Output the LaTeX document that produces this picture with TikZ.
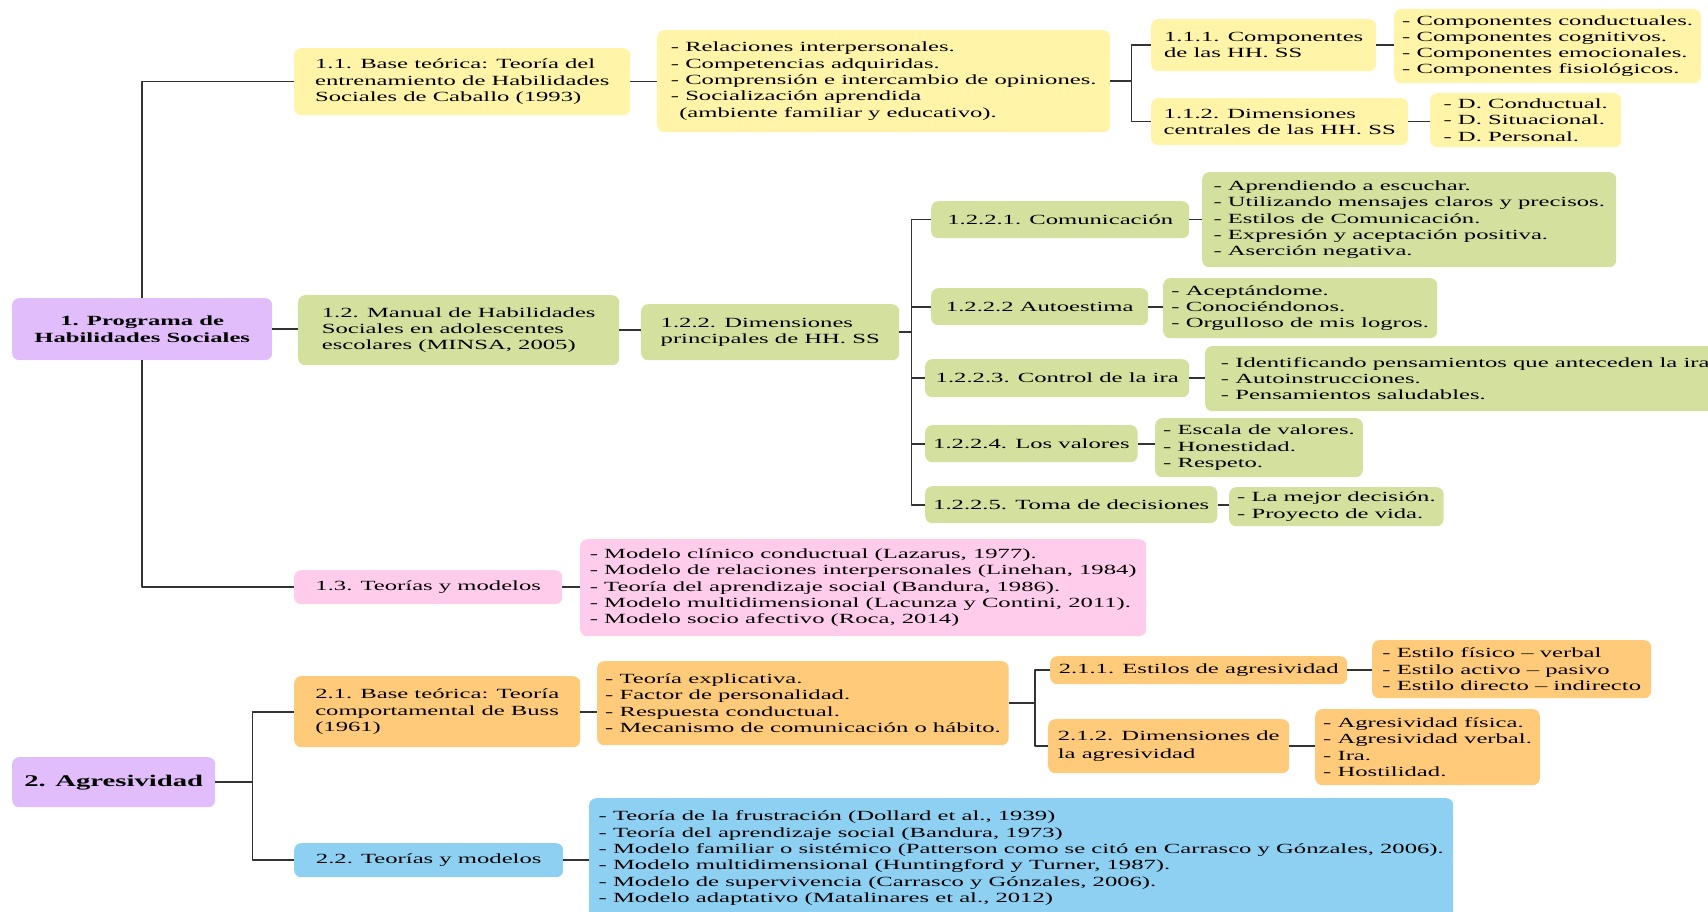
\documentclass[tikz,border=0pt]{standalone}
\usepackage{fontspec}
\setmainfont{Liberation Serif}[FakeStretch=1.76]
\definecolor{hpurple}{RGB}{225,190,251}
\definecolor{hyellow}{RGB}{255,244,168}
\definecolor{hgreen}{RGB}{211,224,158}
\definecolor{hpink}{RGB}{255,204,236}
\definecolor{horange}{RGB}{255,203,122}
\definecolor{hblue}{RGB}{142,208,242}
\begin{document}
\begin{tikzpicture}[x=1pt, y=-1pt, line join=round, font=\fontsize{14}{16.3}\selectfont]
	\tikzset{box/.style={rounded corners=7pt, anchor=north west, align=left, inner xsep=8pt, inner ysep=3pt},
		link/.style={draw=black!80, line width=1.6pt}}
	\useasboundingbox (0,0) rectangle (1708,912);
	\clip (0,0) rectangle (1708,912);
	% 1. Programa de Habilidades Sociales
	\node[box, fill=hpurple, minimum width=260, minimum height=62, align=center, font=\fontsize{14}{16.3}\selectfont\bfseries] (hs) at (12,298) {1. Programa de\\Habilidades Sociales};
	\node[box, fill=hyellow, minimum width=336, minimum height=67] (b11) at (294,48) {1.1. Base teórica: Teoría del\\entrenamiento de Habilidades\\Sociales de Caballo (1993)};
	\node[box, fill=hyellow, minimum width=453, minimum height=102] (l11) at (657,30) {- Relaciones interpersonales.\\- Competencias adquiridas.\\- Comprensión e intercambio de opiniones.\\- Socialización aprendida\\\hspace*{0.6em}(ambiente familiar y educativo).};
	\node[box, fill=hyellow, minimum width=225, minimum height=52] (b111) at (1151,19) {1.1.1. Componentes\\de las HH. SS};
	\node[box, fill=hyellow, minimum width=305, minimum height=74] (l111) at (1394,9) {- Componentes conductuales.\\- Componentes cognitivos.\\- Componentes emocionales.\\- Componentes fisiológicos.};
	\node[box, fill=hyellow, minimum width=257, minimum height=47] (b112) at (1151,98) {1.1.2. Dimensiones\\centrales de las HH. SS};
	\node[box, fill=hyellow, minimum width=191, minimum height=54] (l112) at (1430,93) {- D. Conductual.\\- D. Situacional.\\- D. Personal.};
	\node[box, fill=hgreen, minimum width=321, minimum height=70] (b12) at (298,295) {1.2. Manual de Habilidades\\Sociales en adolescentes\\escolares (MINSA, 2005)};
	\node[box, fill=hgreen, minimum width=258, minimum height=56] (b122) at (641,304) {1.2.2. Dimensiones\\principales de HH. SS};
	\node[box, fill=hgreen, minimum width=258, minimum height=37] (com) at (931,201) {1.2.2.1. Comunicación};
	\node[box, fill=hgreen, minimum width=414, minimum height=95] (lcom) at (1202,172) {- Aprendiendo a escuchar.\\- Utilizando mensajes claros y precisos.\\- Estilos de Comunicación.\\- Expresión y aceptación positiva.\\- Aserción negativa.};
	\node[box, fill=hgreen, minimum width=217, minimum height=37] (aut) at (931,288) {1.2.2.2 Autoestima};
	\node[box, fill=hgreen, minimum width=274, minimum height=60] (laut) at (1163,278) {- Aceptándome.\\- Conociéndonos.\\- Orgulloso de mis logros.};
	\node[box, fill=hgreen, minimum width=264, minimum height=38] (ira) at (925,359) {1.2.2.3. Control de la ira};
	\node[box, fill=hgreen, minimum width=520, minimum height=65] (lira) at (1205,346) {- Identificando pensamientos que anteceden la ira\\- Autoinstrucciones.\\- Pensamientos saludables.};
	\node[box, fill=hgreen, minimum width=212, minimum height=37] (val) at (925,425) {1.2.2.4. Los valores};
	\node[box, fill=hgreen, minimum width=207, minimum height=59] (lval) at (1155,418) {- Escala de valores.\\- Honestidad.\\- Respeto.};
	\node[box, fill=hgreen, minimum width=286, minimum height=37] (dec) at (925,486) {1.2.2.5. Toma de decisiones};
	\node[box, fill=hgreen, minimum width=212, minimum height=39] (ldec) at (1229,487) {- La mejor decisión.\\- Proyecto de vida.};
	\node[box, fill=hpink, minimum width=268, minimum height=34] (b13) at (294,570) {1.3. Teorías y modelos};
	\node[box, fill=hpink, minimum width=566, minimum height=97] (l13) at (580,539) {- Modelo clínico conductual (Lazarus, 1977).\\- Modelo de relaciones interpersonales (Linehan, 1984)\\- Teoría del aprendizaje social (Bandura, 1986).\\- Modelo multidimensional (Lacunza y Contini, 2011).\\- Modelo socio afectivo (Roca, 2014)};
	% 2. Agresividad
	\node[box, fill=hpurple, minimum width=203, minimum height=50, font=\fontsize{16.3}{19}\selectfont\bfseries] (ag) at (12,757) {2. Agresividad};
	\node[box, fill=horange, minimum width=286, minimum height=71] (b21) at (294,676) {2.1. Base teórica: Teoría\\comportamental de Buss\\(1961)};
	\node[box, fill=horange, minimum width=407, minimum height=84] (l21) at (597,661) {- Teoría explicativa.\\- Factor de personalidad.\\- Respuesta conductual.\\- Mecanismo de comunicación o hábito.};
	\node[box, fill=horange, minimum width=297, minimum height=28] (b211) at (1050,656) {2.1.1. Estilos de agresividad};
	\node[box, fill=horange, minimum width=279, minimum height=58] (l211) at (1372,640) {- Estilo físico – verbal\\- Estilo activo – pasivo\\- Estilo directo – indirecto};
	\node[box, fill=horange, minimum width=241, minimum height=54, font=\fontsize{14}{18.5}\selectfont] (b212) at (1048,719) {2.1.2. Dimensiones de\\la agresividad};
	\node[box, fill=horange, minimum width=224, minimum height=76] (l212) at (1315,709) {- Agresividad física.\\- Agresividad verbal.\\- Ira.\\- Hostilidad.};
	\node[box, fill=hblue, minimum width=269, minimum height=34] (b22) at (294,843) {2.2. Teorías y modelos};
	\node[box, fill=hblue, minimum width=864, minimum height=120] (l22) at (589,798) {- Teoría de la frustración (Dollard et al., 1939)\\- Teoría del aprendizaje social (Bandura, 1973)\\- Modelo familiar o sistémico (Patterson como se citó en Carrasco y Gónzales, 2006).\\- Modelo multidimensional (Huntingford y Turner, 1987).\\- Modelo de supervivencia (Carrasco y Gónzales, 2006).\\- Modelo adaptativo (Matalinares et al., 2012)};
	% connectors
	\draw[link] (hs.north) |- (b11.west);
	\draw[link] (hs.south) |- (b13.west);
	\foreach \a/\b in {hs/b12, b12/b122, b11/l11, b111/l111, b112/l112, com/lcom, aut/laut, ira/lira, val/lval, dec/ldec, b13/l13, b21/l21, b211/l211, b212/l212, b22/l22}
	\draw[link] (\a.east) -- (\a.east -| \b.west);
	\draw[link] (l11.east) -- ++(21,0) coordinate (k11);
	\foreach \b in {b111,b112}
	\draw[link] (k11) |- (\b.west);
	\draw[link] (b122.east) -- ++(12,0) coordinate (k122);
	\foreach \b in {com,aut,ira,val,dec}
	\draw[link] (k122) |- (\b.west);
	\draw[link] (ag.east) -- ++(37,0) coordinate (k2);
	\foreach \b in {b21,b22}
	\draw[link] (k2) |- (\b.west);
	\draw[link] (l21.east) -- ++(26,0) coordinate (k21);
	\foreach \b in {b211,b212}
	\draw[link] (k21) |- (\b.west);
\end{tikzpicture}
\end{document}
